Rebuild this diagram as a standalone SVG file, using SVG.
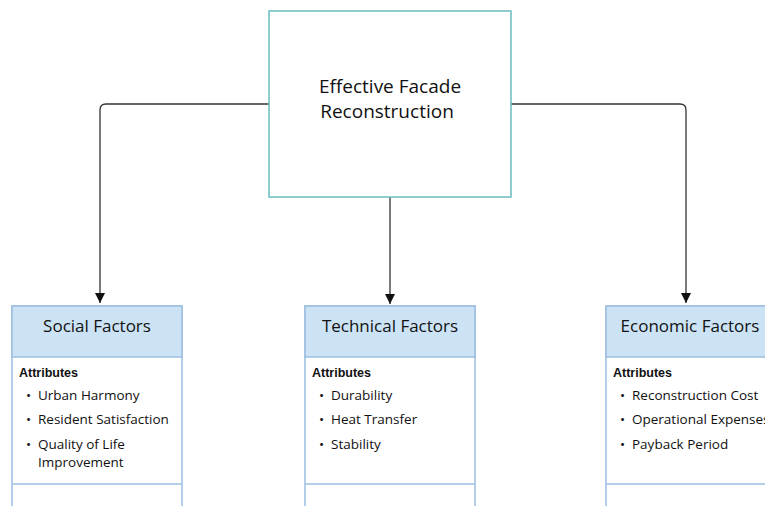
<svg xmlns="http://www.w3.org/2000/svg" width="765" height="506" viewBox="0 0 765 506">
<style>
.root{fill:#ffffff;stroke:#6bbcc0;stroke-width:1.5}
.hdr{fill:#cce3f6;stroke:#9dbfe0;stroke-width:1.5}
.body{fill:#ffffff;stroke:#9dbfe0;stroke-width:1.5}
.t{font-family:"Open Sans","Noto Sans",sans-serif;fill:#111111}
.title{font-size:19px;text-anchor:middle}
.head{font-size:17px;text-anchor:middle}
.attr{font-family:"Liberation Sans",Arial,sans-serif;font-size:12.5px;font-weight:bold;fill:#111111}
.item{font-size:13.5px}
.conn{fill:none;stroke:#333333;stroke-width:1.3}
</style>
<defs>
<marker id="arr" viewBox="0 0 10 10" refX="10" refY="5" markerWidth="10" markerHeight="10" markerUnits="userSpaceOnUse" orient="auto">
<path d="M0,0 L10,5 L0,10 z" fill="#111111"/>
</marker>
</defs>
<rect width="765" height="506" fill="#ffffff"/>
<g id="connectors">
<path class="conn" d="M269,104 H106 Q100,104 100,110 V303" marker-end="url(#arr)"/>
<path class="conn" d="M390,197 V304" marker-end="url(#arr)"/>
<path class="conn" d="M511,104 H680 Q686,104 686,110 V303" marker-end="url(#arr)"/>
</g>
<g id="root">
<rect class="root" x="269" y="11" width="242" height="186"/>
<text class="t title" x="390" y="93">Effective Facade</text>
<text class="t title" x="387" y="118">Reconstruction</text>
</g>
<g id="social">
<rect class="body" x="12" y="306" width="170" height="215"/>
<rect class="hdr" x="12" y="306" width="170" height="51"/>
<line x1="12" y1="484" x2="182" y2="484" stroke="#9dbfe0" stroke-width="1.5"/>
<text class="t head" x="97" y="332">Social Factors</text>
<text class="attr" x="19" y="377">Attributes</text>
<text class="t item" x="26" y="400">•</text><text class="t item" x="38" y="400">Urban Harmony</text>
<text class="t item" x="26" y="424">•</text><text class="t item" x="38" y="424">Resident Satisfaction</text>
<text class="t item" x="26" y="449">•</text><text class="t item" x="38" y="449">Quality of Life</text>
<text class="t item" x="38" y="467">Improvement</text>
</g>
<g id="technical">
<rect class="body" x="305" y="306" width="170" height="215"/>
<rect class="hdr" x="305" y="306" width="170" height="51"/>
<line x1="305" y1="484" x2="475" y2="484" stroke="#9dbfe0" stroke-width="1.5"/>
<text class="t head" x="390" y="332">Technical Factors</text>
<text class="attr" x="312" y="377">Attributes</text>
<text class="t item" x="319" y="400">•</text><text class="t item" x="331" y="400">Durability</text>
<text class="t item" x="319" y="424">•</text><text class="t item" x="331" y="424">Heat Transfer</text>
<text class="t item" x="319" y="449">•</text><text class="t item" x="331" y="449">Stability</text>
</g>
<g id="economic">
<rect class="body" x="606" y="306" width="170" height="215"/>
<rect class="hdr" x="606" y="306" width="170" height="51"/>
<line x1="606" y1="484" x2="776" y2="484" stroke="#9dbfe0" stroke-width="1.5"/>
<text class="t head" x="690" y="332">Economic Factors</text>
<text class="attr" x="613" y="377">Attributes</text>
<text class="t item" x="620" y="400">•</text><text class="t item" x="632" y="400">Reconstruction Cost</text>
<text class="t item" x="620" y="424">•</text><text class="t item" x="632" y="424">Operational Expenses</text>
<text class="t item" x="620" y="449">•</text><text class="t item" x="632" y="449">Payback Period</text>
</g>
</svg>
